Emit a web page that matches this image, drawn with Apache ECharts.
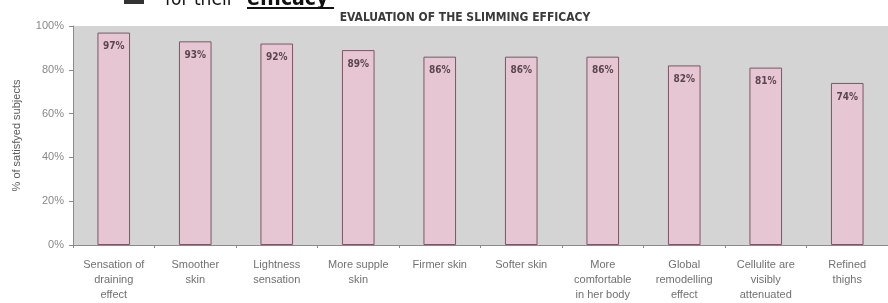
<!DOCTYPE html>
<html>
<head>
<meta charset="utf-8">
<script src="https://cdn.jsdelivr.net/npm/echarts@6/dist/echarts.min.js"></script>
<style>
 html, body { margin: 0; padding: 0; background: #fff; }
 #main { width: 888px; height: 303px; }
</style>
</head>
<body>
<div id="main"></div>
<script>
 var categories = [
     'Sensation of\ndraining\neffect',
     'Smoother\nskin',
     'Lightness\nsensation',
     'More supple\nskin',
     'Firmer skin',
     'Softer skin',
     'More\ncomfortable\nin her body',
     'Global\nremodelling\neffect',
     'Cellulite are\nvisibly\nattenuated',
     'Refined\nthighs'
 ];
 var satisfied = [97, 93, 92, 89, 86, 86, 86, 82, 81, 74];
 var yTicks = [0, 20, 40, 60, 80, 100];

 var myChart = echarts.init(document.getElementById('main'));

 var option = {
     backgroundColor: '#fff',
     animation: false,
     title: {
         text: 'EVALUATION OF THE SLIMMING EFFICACY',
         left: 460,
         textAlign: 'center',
         top: 7,
         textStyle: {
             fontFamily: 'DejaVu Sans Condensed',
             fontSize: 12,
             fontWeight: 'bold',
             color: '#3a3a3a'
         }
     },
     graphic: [{
         type: 'rect',
         shape: { x: 124, y: 0, width: 20, height: 4 },
         style: { fill: '#333' }
     }, {
         type: 'text',
         x: 165,
         y: 10,
         style: {
             text: 'for their',
             font: '19px "DejaVu Sans Condensed"',
             fill: '#111',
             verticalAlign: 'bottom'
         }
     }, {
         type: 'text',
         x: 247,
         y: 10,
         style: {
             text: 'efficacy',
             font: 'bold 21px "DejaVu Sans Condensed"',
             fill: '#111',
             verticalAlign: 'bottom'
         }
     }, {
         type: 'line',
         shape: { x1: 247, y1: 8, x2: 334, y2: 8 },
         style: { stroke: '#111', lineWidth: 2 }
     }],
     grid: {
         show: true,
         left: 73,
         right: 0,
         top: 26,
         bottom: 58,
         backgroundColor: '#d5d4d4',
         borderWidth: 0
     },
     xAxis: {
         type: 'category',
         data: categories,
         axisLine: { lineStyle: { color: '#8a8a8a' } },
         axisTick: { show: true, length: 3, lineStyle: { color: '#8a8a8a' } },
         axisLabel: {
             interval: 0,
             color: '#707070',
             fontSize: 11,
             lineHeight: 15,
             margin: 12,
             fontFamily: 'Liberation Sans'
         }
     },
     yAxis: {
         type: 'value',
         min: 0,
         max: 100,
         interval: 20,
         name: '% of satisfyed subjects',
         nameLocation: 'middle',
         nameGap: 51,
         nameRotate: 90,
         nameTextStyle: {
             color: '#5a5a5a',
             fontSize: 11,
             fontFamily: 'Liberation Sans'
         },
         axisLine: { show: true, lineStyle: { color: '#8a8a8a' } },
         axisTick: { show: true, length: 4, lineStyle: { color: '#8a8a8a' } },
         splitLine: { show: false },
         axisLabel: {
             color: '#888',
             fontSize: 11,
             margin: 9,
             fontFamily: 'Liberation Sans',
             formatter: function (v) {
                 return yTicks.indexOf(v) >= 0 ? v + '%' : '';
             }
         }
     },
     series: [{
         type: 'bar',
         data: satisfied,
         barWidth: '40%',
         itemStyle: {
             color: '#e6c6d2',
             borderColor: '#7d5566',
             borderWidth: 1
         },
         label: {
             show: true,
             position: 'insideTop',
             distance: 9,
             formatter: '{c}%',
             color: '#5a4650',
             fontSize: 10,
             fontWeight: 'bold',
             fontFamily: 'DejaVu Sans Condensed'
         }
     }]
 };

 myChart.setOption(option);
</script>
</body>
</html>
